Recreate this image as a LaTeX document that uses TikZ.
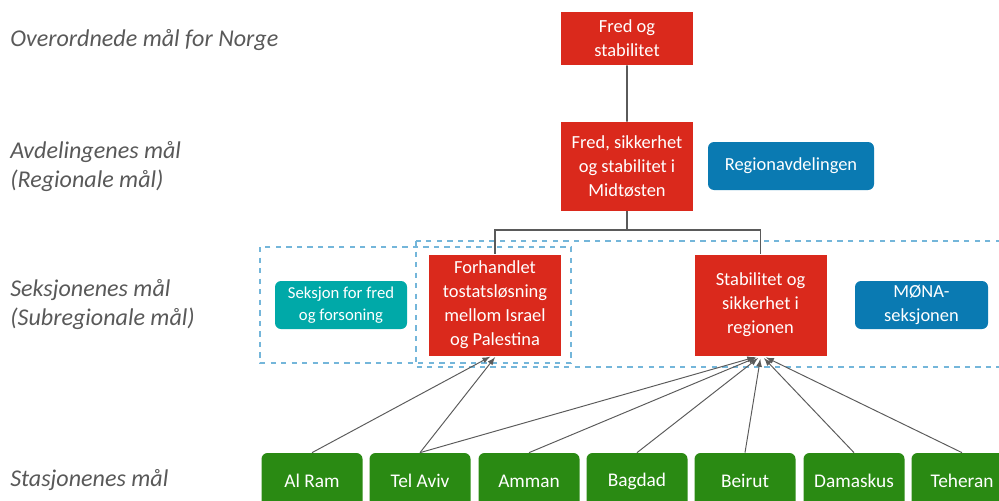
\documentclass[tikz,border=0pt]{standalone}
\usepackage{fontspec}
\setmainfont{Carlito}
\usepackage{tikz}
\usetikzlibrary{arrows}
\definecolor{maalrod}{HTML}{DA291C}
\definecolor{avdblaa}{HTML}{0A7AB2}
\definecolor{seksjonturkis}{HTML}{00A9A8}
\definecolor{stasjongronn}{HTML}{2A8A13}
\definecolor{nivagraa}{HTML}{595959}
\definecolor{linjegraa}{HTML}{5A5A5A}
\definecolor{rammeblaa}{HTML}{74B6DA}
\begin{document}
\begin{tikzpicture}[scale=0.2]
\tikzstyle{every node}+=[inner sep=0pt]
\tikzstyle{maal}=[fill=maalrod, text=white, minimum width=2.64cm, align=center, font=\fontsize{10.5}{13.6}\selectfont]
\tikzstyle{enhet}=[rounded corners=0.12cm, text=white, minimum height=0.96cm, align=center, font=\fontsize{10.5}{13.6}\selectfont]
\tikzstyle{stasjon}=[rounded corners=0.12cm, fill=stasjongronn, text=white, minimum width=2.02cm, minimum height=1.12cm, font=\fontsize{11}{13}\selectfont]
\tikzstyle{niva}=[anchor=west, text=nivagraa, align=left, font=\fontsize{13.7}{16.5}\selectfont\itshape]
\tikzstyle{linje}=[draw=linjegraa, line width=0.9pt]
\tikzstyle{pil}=[draw=linjegraa, line width=0.55pt, -latex, shorten >=1pt]
\tikzstyle{ramme}=[draw=rammeblaa, dashed, line width=0.8pt]
\useasboundingbox (0,0) rectangle (99.9,-50);
\draw[ramme] (26,-24.7) rectangle (57.1,-36.3);
\draw[ramme] (41.6,-24.1) rectangle (102,-36.7);
\node[niva] (overordnet) at (1,-4) {Overordnede mål for Norge};
\node[niva] (avdeling) at (1,-16.7) {Avdelingenes mål\\(Regionale mål)};
\node[niva] (seksjon) at (1,-30.5) {Seksjonenes mål\\(Subregionale mål)};
\node[niva] (stasjonniva) at (1,-48) {Stasjonenes mål};
\node[maal, minimum height=1.06cm] (fred) at (62.7,-3.85) {Fred og\\stabilitet};
\node[maal, minimum height=1.78cm] (midt) at (62.7,-16.65) {Fred, sikkerhet\\og stabilitet i\\Midtøsten};
\node[enhet, fill=avdblaa, minimum width=3.32cm] (regionavd) at (79.1,-16.6) {Regionavdelingen};
\node[maal, minimum height=2.02cm] (forh) at (49.5,-30.5) {Forhandlet\\tostatsløsning\\mellom Israel\\og Palestina};
\node[maal, minimum height=2.02cm] (stab) at (76.05,-30.5) {Stabilitet og\\sikkerhet i\\regionen};
\node[enhet, fill=seksjonturkis, minimum width=2.64cm, font=\fontsize{9.5}{12.5}\selectfont] (fredforsoning) at (34.1,-30.5) {Seksjon for fred\\og forsoning};
\node[enhet, fill=avdblaa, minimum width=2.66cm] (mona) at (92.15,-30.5) {MØNA-\\seksjonen};
\node[stasjon] (alram) at (31.2,-48.1) {Al Ram};
\node[stasjon] (telaviv) at (42,-48.1) {Tel Aviv};
\node[stasjon] (amman) at (52.9,-48.1) {Amman};
\node[stasjon] (bagdad) at (63.7,-48.1) {Bagdad};
\node[stasjon] (beirut) at (74.5,-48.1) {Beirut};
\node[stasjon] (damaskus) at (85.4,-48.1) {Damaskus};
\node[stasjon] (teheran) at (96.2,-48.1) {Teheran};
\coordinate (deling) at (62.7,-23);
\draw[linje] (fred) -- (midt);
\draw[linje] (midt.south) -- (deling) -| (forh.north);
\draw[linje] (deling) -| (stab.north);
\draw[pil] (alram.north) -- ([xshift=-0.32cm]forh.south);
\draw[pil] (telaviv.north) -- ([xshift=0.11cm]forh.south);
\draw[pil] (telaviv.north) -- ([xshift=-0.37cm,yshift=-0.08cm]stab.south);
\draw[pil] (amman.north) -- ([xshift=-0.25cm,yshift=-0.1cm]stab.south);
\draw[pil] (bagdad.north) -- ([xshift=-0.11cm,yshift=-0.12cm]stab.south);
\draw[pil] (beirut.north) -- ([xshift=0.01cm,yshift=-0.14cm]stab.south);
\draw[pil] (damaskus.north) -- ([xshift=0.23cm,yshift=-0.1cm]stab.south);
\draw[pil] (teheran.north) -- ([xshift=0.39cm,yshift=-0.08cm]stab.south);
\end{tikzpicture}
\end{document}
